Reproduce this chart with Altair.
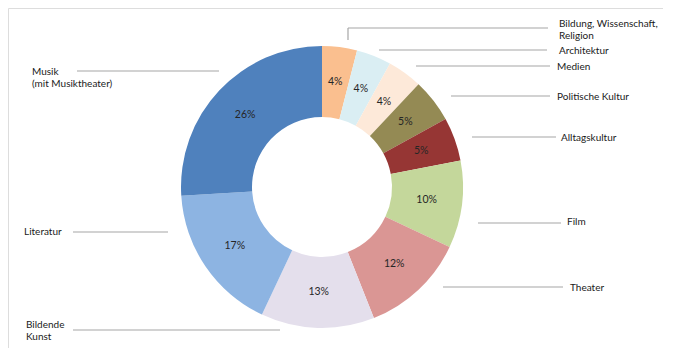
import altair as alt
import pandas as pd

# --- data ---
categories = ["Bildung, Wissenschaft, Religion", "Architektur", "Medien", "Politische Kultur",
              "Alltagskultur", "Film", "Theater", "Bildende Kunst", "Literatur",
              "Musik (mit Musiktheater)"]
label_text = ["Bildung, Wissenschaft,\nReligion", "Architektur", "Medien", "Politische Kultur",
              "Alltagskultur", "Film", "Theater", "Bildende\nKunst", "Literatur",
              "Musik\n(mit Musiktheater)"]
shares = [4, 4, 4, 5, 5, 10, 12, 13, 17, 26]
colors = ["#FABF8F", "#DAEEF3", "#FDE9D9", "#948A54", "#963634",
          "#C4D79B", "#DA9694", "#E4DFEC", "#8DB4E2", "#4F81BD"]

# --- annotation layout (page pixels) ---
OFF = 8
label_x = [559, 559, 557, 557, 561, 567, 570, 26, 24, 32]
label_y = [24, 51, 67, 97, 138, 222, 288, 325, 232, 72]
line_x1 = [348, 379, 416, 451, 472, 478, 443, 73, 73, 77]
line_x2 = [548, 547, 550, 550, 556, 561, 563, 280, 168, 219]
line_y = [28, 50, 66, 96, 137, 223, 287, 330, 232, 71]
elbow = {"x": 348, "y1": 28, "y2": 40}
CX, CY, R_OUT, R_IN = 322, 187, 141, 70

df = pd.DataFrame({
    "idx": list(range(len(categories))),
    "category": categories,
    "share": shares,
    "pct": [f"{v}%" for v in shares],
})

lab = pd.DataFrame({
    "label": label_text,
    "lx": [v - OFF for v in label_x],
    "ly": [v - OFF for v in label_y],
    "x1": [v - OFF for v in line_x1],
    "x2": [v - OFF for v in line_x2],
    "y": [v - OFF for v in line_y],
})
elb = pd.DataFrame({"x": [elbow["x"] - OFF], "y1": [elbow["y1"] - OFF], "y2": [elbow["y2"] - OFF]})

base = alt.Chart(df).encode(
    theta=alt.Theta("share:Q", stack=True),
    order=alt.Order("idx:Q"),
)

arcs = base.mark_arc(radius=R_OUT, radius2=R_IN).encode(
    x=alt.value(CX - OFF), y=alt.value(CY - OFF),
    color=alt.Color("category:N", scale=alt.Scale(domain=categories, range=colors), legend=None),
)

pct = base.mark_text(radius=(R_OUT + R_IN) / 2, font="Lato", fontSize=10.5, color="#262626").encode(
    x=alt.value(CX - OFF), y=alt.value(CY - OFF),
    text="pct:N",
)

lines = alt.Chart(lab).mark_rule(color="#A6A6A6", strokeWidth=1.2).encode(
    x=alt.X("x1:Q", scale=None), x2="x2:Q",
    y=alt.Y("y:Q", scale=None),
)

elbow_line = alt.Chart(elb).mark_rule(color="#A6A6A6", strokeWidth=1.2).encode(
    x=alt.X("x:Q", scale=None),
    y=alt.Y("y1:Q", scale=None), y2="y2:Q",
)

labels = alt.Chart(lab).mark_text(align="left", baseline="middle", font="Lato", fontSize=10,
                                  color="#1a1a1a", lineBreak="\n", lineHeight=12).encode(
    x=alt.X("lx:Q", scale=None),
    y=alt.Y("ly:Q", scale=None),
    text="label:N",
)

chart = alt.layer(arcs, pct, lines, elbow_line, labels).properties(
    width=655, height=340, padding=0, autosize=alt.AutoSizeParams(type="none"),
).configure_view(stroke=None).configure(background="white")

chart.save("out.html", embed_options={"renderer": "svg", "actions": False})
